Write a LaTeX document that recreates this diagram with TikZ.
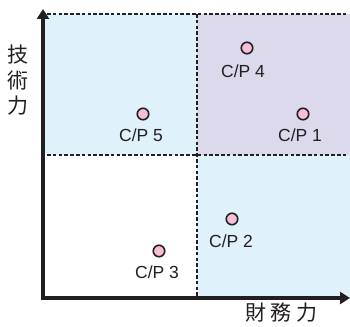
\documentclass[tikz,border=0pt]{standalone}
\usepackage{fontspec}
\setmainfont{Liberation Sans}
\newfontfamily\cjk{Noto Sans CJK JP}
\usetikzlibrary{arrows.meta}
\definecolor{qblue}{HTML}{DFF1FB}
\definecolor{qpurple}{HTML}{DCD9EC}
\definecolor{dotpink}{HTML}{F8BDD7}
\definecolor{axisc}{HTML}{231F20}
\tikzset{
  dot/.style={circle,draw=axisc,fill=dotpink,line width=1.6pt,minimum size=11.5pt,inner sep=0pt},
  lbl/.style={font=\fontsize{17.5}{18}\selectfont,inner sep=0pt,text=axisc},
  divider/.style={draw=axisc,line width=2.6pt,dash pattern=on 3.6pt off 2.2pt},
  axisline/.style={draw=axisc,line width=4.2pt,-{Triangle[length=10pt,width=12pt]}},
  axlbl/.style={font=\cjk\fontsize{21}{22}\selectfont,inner sep=0pt,text=axisc}
}
\begin{document}
\begin{tikzpicture}[x=1pt,y=-1pt]
\useasboundingbox (0,0) rectangle (350,326);
% regions
\fill[qblue] (43,14) rectangle (197,155);
\fill[qpurple] (197,14) rectangle (350,155);
\fill[qblue] (197,155) rectangle (350,298);
% dividers
\coordinate (tl) at (47,14);
\coordinate (tr) at (348,14);
\coordinate (ml) at (47,155);
\coordinate (mr) at (348,155);
\coordinate (vt) at (197,14);
\coordinate (vb) at (197,296);
\draw[divider] (tl) -- (tr);
\draw[divider] (ml) -- (mr);
\draw[divider] (vt) -- (vb);
% axes
\coordinate (o) at (43,298);
\coordinate (ytip) at (43,9);
\coordinate (xtip) at (350,298);
\draw[axisline] (o) -- (ytip);
\draw[axisline] ([xshift=-2.1pt]o) -- (xtip);
% axis labels
\node[axlbl] (y1) at (18,55) {技};
\node[axlbl] (y2) at (18,81) {術};
\node[axlbl] (y3) at (18,106) {力};
\node[axlbl] (x1) at (256,313) {財};
\node[axlbl] (x2) at (281,313) {務};
\node[axlbl] (x3) at (307,313) {力};
% points
\node[dot] (p5) at (143,114) {};
\node[lbl] (l5) at (141,135) {C/P 5};
\node[dot] (p4) at (247,48) {};
\node[lbl] (l4) at (243,71) {C/P 4};
\node[dot] (p1) at (303,114) {};
\node[lbl] (l1) at (300,135) {C/P 1};
\node[dot] (p2) at (232,219) {};
\node[lbl] (l2) at (231,241) {C/P 2};
\node[dot] (p3) at (159,251) {};
\node[lbl] (l3) at (157,272) {C/P 3};
\end{tikzpicture}
\end{document}
